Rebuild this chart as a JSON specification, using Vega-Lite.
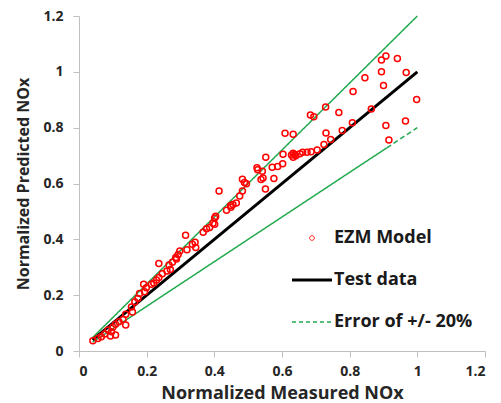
{
  "$schema": "https://vega.github.io/schema/vega-lite/v6.json",
  "width": 406,
  "height": 335,
  "autosize": "none",
  "padding": {"left": 79, "top": 16, "right": 16, "bottom": 52},
  "background": "white",
  "config": {
    "view": {"stroke": null},
    "axis": {
      "grid": false,
      "domainColor": "#BFBFBF",
      "tickColor": "#BFBFBF",
      "tickSize": 6,
      "labelFont": "Open Sans",
      "labelFontWeight": "bold",
      "labelFontSize": 14,
      "labelColor": "#262626",
      "titleFont": "Open Sans",
      "titleFontWeight": "bold",
      "titleFontSize": 18,
      "titleColor": "#262626"
    }
  },
  "encoding": {
    "x": {
      "field": "x",
      "type": "quantitative",
      "scale": {"domain": [0, 1.2], "nice": false, "zero": false},
      "axis": {"title": "Normalized Measured NOx", "values": [0, 0.2, 0.4, 0.6, 0.8, 1, 1.2], "format": "~g", "labelPadding": 7, "titlePadding": 6}
    },
    "y": {
      "field": "y",
      "type": "quantitative",
      "scale": {"domain": [0, 1.2], "nice": false, "zero": false},
      "axis": {"title": "Normalized Predicted NOx", "values": [0, 0.2, 0.4, 0.6, 0.8, 1, 1.2], "format": "~g", "labelPadding": 10, "titlePadding": 11, "titleFontSize": 16}
    },
    "color": {
      "field": "series",
      "type": "nominal",
      "scale": {"domain": ["EZM Model", "Test data", "Error of +/- 20%"], "range": ["#FF0000", "#000000", "#22A94F"]},
      "legend": {
        "title": null,
        "orient": "none",
        "legendX": 224,
        "legendY": 213,
        "padding": 0,
        "symbolSize": 1600,
        "rowPadding": 24,
        "labelOffset": 13,
        "labelFont": "Open Sans",
        "labelFontWeight": "bold",
        "labelFontSize": 18,
        "labelColor": "#1a1a1a",
        "encode": {
          "symbols": {
            "update": {
              "shape": {"signal": "datum.value === 'EZM Model' ? 'circle' : 'stroke'"},
              "size": {"signal": "datum.value === 'EZM Model' ? 22 : 1600"},
              "strokeWidth": {"signal": "datum.value === 'EZM Model' ? 1 : datum.value === 'Test data' ? 3 : 1.5"},
              "strokeDash": {"signal": "datum.value === 'Error of +/- 20%' ? [4, 3] : [1, 0]"},
              "fill": {"value": "transparent"},
              "stroke": {"signal": "datum.value === 'EZM Model' ? '#FF6060' : datum.value === 'Test data' ? '#000000' : '#33C060'"},
              "opacity": {"value": 1}
            }
          }
        }
      }
    }
  },
  "layer": [
    {
      "data": {"values": [
        {"series": "Error of +/- 20%", "seg": "up", "x": 0.04, "y": 0.048},
        {"series": "Error of +/- 20%", "seg": "up", "x": 1.0, "y": 1.2},
        {"series": "Error of +/- 20%", "seg": "lo1", "x": 0.04, "y": 0.032},
        {"series": "Error of +/- 20%", "seg": "lo1", "x": 0.91, "y": 0.728},
        {"series": "Error of +/- 20%", "seg": "lo2", "x": 0.91, "y": 0.728},
        {"series": "Error of +/- 20%", "seg": "lo2", "x": 1.0, "y": 0.8}
      ]},
      "mark": {"type": "line", "strokeWidth": 1.5},
      "encoding": {
        "detail": {"field": "seg", "type": "nominal"},
        "strokeDash": {"field": "seg", "type": "nominal", "scale": {"domain": ["up", "lo1", "lo2"], "range": [[1, 0], [1, 0], [5, 3]]}, "legend": null}
      }
    },
    {
      "data": {"values": [
        {"series": "Test data", "x": 0.04, "y": 0.04},
        {"series": "Test data", "x": 1.0, "y": 1.0}
      ]},
      "mark": {"type": "line", "strokeWidth": 3},
      "encoding": {}
    },
    {
      "data": {"values": [
        {"series": "EZM Model", "x": 0.907, "y": 1.057},
        {"series": "EZM Model", "x": 0.894, "y": 1.042},
        {"series": "EZM Model", "x": 0.941, "y": 1.048},
        {"series": "EZM Model", "x": 0.845, "y": 0.979},
        {"series": "EZM Model", "x": 0.894, "y": 1.0},
        {"series": "EZM Model", "x": 0.967, "y": 0.998},
        {"series": "EZM Model", "x": 0.81, "y": 0.93},
        {"series": "EZM Model", "x": 0.9, "y": 0.951},
        {"series": "EZM Model", "x": 0.998, "y": 0.901},
        {"series": "EZM Model", "x": 0.768, "y": 0.854},
        {"series": "EZM Model", "x": 0.864, "y": 0.867},
        {"series": "EZM Model", "x": 0.808, "y": 0.818},
        {"series": "EZM Model", "x": 0.778, "y": 0.79},
        {"series": "EZM Model", "x": 0.744, "y": 0.758},
        {"series": "EZM Model", "x": 0.907, "y": 0.808},
        {"series": "EZM Model", "x": 0.965, "y": 0.824},
        {"series": "EZM Model", "x": 0.916, "y": 0.756},
        {"series": "EZM Model", "x": 0.729, "y": 0.874},
        {"series": "EZM Model", "x": 0.684, "y": 0.845},
        {"series": "EZM Model", "x": 0.694, "y": 0.839},
        {"series": "EZM Model", "x": 0.609, "y": 0.78},
        {"series": "EZM Model", "x": 0.633, "y": 0.776},
        {"series": "EZM Model", "x": 0.73, "y": 0.781},
        {"series": "EZM Model", "x": 0.724, "y": 0.74},
        {"series": "EZM Model", "x": 0.704, "y": 0.72},
        {"series": "EZM Model", "x": 0.686, "y": 0.714},
        {"series": "EZM Model", "x": 0.674, "y": 0.712},
        {"series": "EZM Model", "x": 0.661, "y": 0.712},
        {"series": "EZM Model", "x": 0.653, "y": 0.707},
        {"series": "EZM Model", "x": 0.633, "y": 0.708},
        {"series": "EZM Model", "x": 0.641, "y": 0.699},
        {"series": "EZM Model", "x": 0.633, "y": 0.694},
        {"series": "EZM Model", "x": 0.638, "y": 0.704},
        {"series": "EZM Model", "x": 0.628, "y": 0.702},
        {"series": "EZM Model", "x": 0.603, "y": 0.705},
        {"series": "EZM Model", "x": 0.552, "y": 0.694},
        {"series": "EZM Model", "x": 0.602, "y": 0.671},
        {"series": "EZM Model", "x": 0.587, "y": 0.661},
        {"series": "EZM Model", "x": 0.571, "y": 0.658},
        {"series": "EZM Model", "x": 0.526, "y": 0.656},
        {"series": "EZM Model", "x": 0.528, "y": 0.649},
        {"series": "EZM Model", "x": 0.542, "y": 0.644},
        {"series": "EZM Model", "x": 0.483, "y": 0.615},
        {"series": "EZM Model", "x": 0.489, "y": 0.604},
        {"series": "EZM Model", "x": 0.495, "y": 0.599},
        {"series": "EZM Model", "x": 0.538, "y": 0.614},
        {"series": "EZM Model", "x": 0.544, "y": 0.62},
        {"series": "EZM Model", "x": 0.576, "y": 0.618},
        {"series": "EZM Model", "x": 0.551, "y": 0.58},
        {"series": "EZM Model", "x": 0.414, "y": 0.573},
        {"series": "EZM Model", "x": 0.475, "y": 0.555},
        {"series": "EZM Model", "x": 0.483, "y": 0.573},
        {"series": "EZM Model", "x": 0.465, "y": 0.53},
        {"series": "EZM Model", "x": 0.455, "y": 0.525},
        {"series": "EZM Model", "x": 0.448, "y": 0.521},
        {"series": "EZM Model", "x": 0.436, "y": 0.504},
        {"series": "EZM Model", "x": 0.449, "y": 0.515},
        {"series": "EZM Model", "x": 0.404, "y": 0.483},
        {"series": "EZM Model", "x": 0.401, "y": 0.476},
        {"series": "EZM Model", "x": 0.396, "y": 0.458},
        {"series": "EZM Model", "x": 0.401, "y": 0.454},
        {"series": "EZM Model", "x": 0.386, "y": 0.442},
        {"series": "EZM Model", "x": 0.377, "y": 0.438},
        {"series": "EZM Model", "x": 0.367, "y": 0.425},
        {"series": "EZM Model", "x": 0.315, "y": 0.415},
        {"series": "EZM Model", "x": 0.343, "y": 0.39},
        {"series": "EZM Model", "x": 0.335, "y": 0.382},
        {"series": "EZM Model", "x": 0.345, "y": 0.371},
        {"series": "EZM Model", "x": 0.319, "y": 0.363},
        {"series": "EZM Model", "x": 0.298, "y": 0.358},
        {"series": "EZM Model", "x": 0.293, "y": 0.346},
        {"series": "EZM Model", "x": 0.286, "y": 0.335},
        {"series": "EZM Model", "x": 0.236, "y": 0.313},
        {"series": "EZM Model", "x": 0.266, "y": 0.308},
        {"series": "EZM Model", "x": 0.276, "y": 0.318},
        {"series": "EZM Model", "x": 0.288, "y": 0.33},
        {"series": "EZM Model", "x": 0.27, "y": 0.292},
        {"series": "EZM Model", "x": 0.26, "y": 0.287},
        {"series": "EZM Model", "x": 0.246, "y": 0.277},
        {"series": "EZM Model", "x": 0.236, "y": 0.263},
        {"series": "EZM Model", "x": 0.229, "y": 0.254},
        {"series": "EZM Model", "x": 0.221, "y": 0.244},
        {"series": "EZM Model", "x": 0.214, "y": 0.239},
        {"series": "EZM Model", "x": 0.191, "y": 0.239},
        {"series": "EZM Model", "x": 0.199, "y": 0.227},
        {"series": "EZM Model", "x": 0.194, "y": 0.212},
        {"series": "EZM Model", "x": 0.179, "y": 0.206},
        {"series": "EZM Model", "x": 0.174, "y": 0.188},
        {"series": "EZM Model", "x": 0.165, "y": 0.176},
        {"series": "EZM Model", "x": 0.155, "y": 0.158},
        {"series": "EZM Model", "x": 0.158, "y": 0.14},
        {"series": "EZM Model", "x": 0.138, "y": 0.132},
        {"series": "EZM Model", "x": 0.13, "y": 0.113},
        {"series": "EZM Model", "x": 0.118, "y": 0.105},
        {"series": "EZM Model", "x": 0.108, "y": 0.096},
        {"series": "EZM Model", "x": 0.138, "y": 0.093},
        {"series": "EZM Model", "x": 0.1, "y": 0.085},
        {"series": "EZM Model", "x": 0.096, "y": 0.069},
        {"series": "EZM Model", "x": 0.108, "y": 0.057},
        {"series": "EZM Model", "x": 0.093, "y": 0.054},
        {"series": "EZM Model", "x": 0.086, "y": 0.075},
        {"series": "EZM Model", "x": 0.076, "y": 0.061},
        {"series": "EZM Model", "x": 0.066, "y": 0.051},
        {"series": "EZM Model", "x": 0.056, "y": 0.045},
        {"series": "EZM Model", "x": 0.041, "y": 0.037}
      ]},
      "mark": {"type": "point", "shape": "circle", "filled": false, "size": 36, "strokeWidth": 1.5, "opacity": 1},
      "encoding": {}
    }
  ]
}
